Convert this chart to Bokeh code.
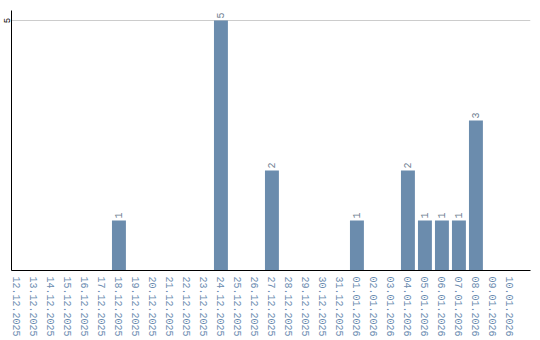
from bokeh.plotting import figure
from bokeh.models import ColumnDataSource, Range1d, FixedTicker
from bokeh.core.properties import value
from bokeh.embed import file_html
from bokeh.resources import INLINE
import math

dates = ["12.12.2025", "13.12.2025", "14.12.2025", "15.12.2025", "16.12.2025",
         "17.12.2025", "18.12.2025", "19.12.2025", "20.12.2025", "21.12.2025",
         "22.12.2025", "23.12.2025", "24.12.2025", "25.12.2025", "26.12.2025",
         "27.12.2025", "28.12.2025", "29.12.2025", "30.12.2025", "31.12.2025",
         "01.01.2026", "02.01.2026", "03.01.2026", "04.01.2026", "05.01.2026",
         "06.01.2026", "07.01.2026", "08.01.2026", "09.01.2026", "10.01.2026"]
counts = [0, 0, 0, 0, 0, 0, 1, 0, 0, 0,
          0, 0, 5, 0, 0, 2, 0, 0, 0, 0,
          1, 0, 0, 2, 1, 1, 1, 3, 0, 0]
y_ticks = [5]

idx = list(range(len(dates)))
src = ColumnDataSource(dict(x=idx, top=counts))
lab_x = [i for i, c in zip(idx, counts) if c > 0]
lab_y = [c for c in counts if c > 0]
lab_t = [str(c) for c in counts if c > 0]
lsrc = ColumnDataSource(dict(x=lab_x, y=lab_y, t=lab_t))

p = figure(width=540, height=340, output_backend="svg", toolbar_location=None,
           x_range=Range1d(-0.32, 30.21), y_range=Range1d(0, 5.2),
           min_border_left=11, min_border_right=10, min_border_top=10, min_border_bottom=70)
p.outline_line_color = None
p.background_fill_color = "white"

p.vbar(x="x", top="top", width=0.82, bottom=0, source=src,
       fill_color="#6b8cad", line_color=None)
p.text(x="x", y="y", text="t", source=lsrc, angle=math.pi / 2,
       text_align="left", text_baseline="middle", y_offset=-2,
       text_font=value("Liberation Mono"), text_font_size="10px",
       text_color="#6f7f92")

p.xaxis.ticker = FixedTicker(ticks=idx)
p.xaxis.major_label_overrides = {i: d for i, d in zip(idx, dates)}
p.xaxis.major_label_orientation = "vertical"
p.xaxis.major_label_text_font = "Liberation Mono"
p.xaxis.major_label_text_font_size = "10px"
p.xaxis.major_label_text_color = "#6b8cb0"
p.xaxis.major_tick_line_color = None
p.xaxis.minor_tick_line_color = None
p.xaxis.major_tick_out = 0
p.xaxis.major_label_standoff = 6
p.xaxis.axis_line_color = "black"

p.yaxis.ticker = FixedTicker(ticks=y_ticks)
p.yaxis.major_label_orientation = "vertical"
p.yaxis.major_label_text_font = "Liberation Mono"
p.yaxis.major_label_text_font_size = "9px"
p.yaxis.major_label_text_color = "black"
p.yaxis.major_tick_line_color = None
p.yaxis.minor_tick_line_color = None
p.yaxis.major_tick_out = 0
p.yaxis.major_label_standoff = 2
p.yaxis.axis_line_color = "black"

p.xgrid.grid_line_color = None
p.ygrid.ticker = FixedTicker(ticks=y_ticks)
p.ygrid.grid_line_color = "#cccccc"

open("out.html", "w").write(file_html(p, INLINE))
